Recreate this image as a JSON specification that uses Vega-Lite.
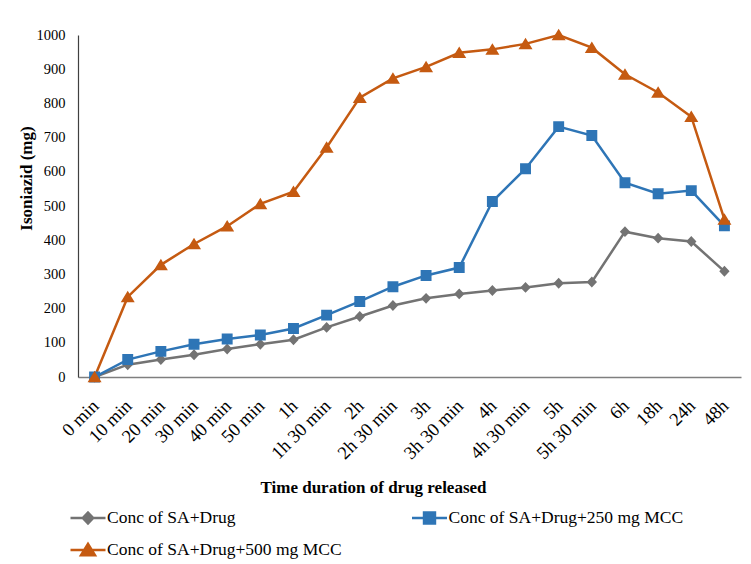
{
  "$schema": "https://vega.github.io/schema/vega-lite/v6.json",
  "width": 663,
  "height": 342,
  "autosize": "none",
  "padding": {"left": 78, "top": 35, "right": 10, "bottom": 187},
  "background": "white",
  "config": {"view": {"stroke": null}, "font": "Liberation Serif"},
  "data": {
    "values": [
      {"time": "0 min", "series": "Conc of SA+Drug", "value": 0},
      {"time": "10 min", "series": "Conc of SA+Drug", "value": 36},
      {"time": "20 min", "series": "Conc of SA+Drug", "value": 51},
      {"time": "30 min", "series": "Conc of SA+Drug", "value": 65},
      {"time": "40 min", "series": "Conc of SA+Drug", "value": 82},
      {"time": "50 min", "series": "Conc of SA+Drug", "value": 96},
      {"time": "1h", "series": "Conc of SA+Drug", "value": 109},
      {"time": "1h 30 min", "series": "Conc of SA+Drug", "value": 145},
      {"time": "2h", "series": "Conc of SA+Drug", "value": 177},
      {"time": "2h 30 min", "series": "Conc of SA+Drug", "value": 209},
      {"time": "3h", "series": "Conc of SA+Drug", "value": 230},
      {"time": "3h 30 min", "series": "Conc of SA+Drug", "value": 243},
      {"time": "4h", "series": "Conc of SA+Drug", "value": 253},
      {"time": "4h 30 min", "series": "Conc of SA+Drug", "value": 262},
      {"time": "5h", "series": "Conc of SA+Drug", "value": 274},
      {"time": "5h 30 min", "series": "Conc of SA+Drug", "value": 278},
      {"time": "6h", "series": "Conc of SA+Drug", "value": 425},
      {"time": "18h", "series": "Conc of SA+Drug", "value": 406},
      {"time": "24h", "series": "Conc of SA+Drug", "value": 396},
      {"time": "48h", "series": "Conc of SA+Drug", "value": 309},
      {"time": "0 min", "series": "Conc of SA+Drug+250 mg MCC", "value": 0},
      {"time": "10 min", "series": "Conc of SA+Drug+250 mg MCC", "value": 51},
      {"time": "20 min", "series": "Conc of SA+Drug+250 mg MCC", "value": 75},
      {"time": "30 min", "series": "Conc of SA+Drug+250 mg MCC", "value": 96},
      {"time": "40 min", "series": "Conc of SA+Drug+250 mg MCC", "value": 111},
      {"time": "50 min", "series": "Conc of SA+Drug+250 mg MCC", "value": 123},
      {"time": "1h", "series": "Conc of SA+Drug+250 mg MCC", "value": 142},
      {"time": "1h 30 min", "series": "Conc of SA+Drug+250 mg MCC", "value": 181},
      {"time": "2h", "series": "Conc of SA+Drug+250 mg MCC", "value": 221},
      {"time": "2h 30 min", "series": "Conc of SA+Drug+250 mg MCC", "value": 264},
      {"time": "3h", "series": "Conc of SA+Drug+250 mg MCC", "value": 297},
      {"time": "3h 30 min", "series": "Conc of SA+Drug+250 mg MCC", "value": 320},
      {"time": "4h", "series": "Conc of SA+Drug+250 mg MCC", "value": 513},
      {"time": "4h 30 min", "series": "Conc of SA+Drug+250 mg MCC", "value": 609},
      {"time": "5h", "series": "Conc of SA+Drug+250 mg MCC", "value": 732},
      {"time": "5h 30 min", "series": "Conc of SA+Drug+250 mg MCC", "value": 706},
      {"time": "6h", "series": "Conc of SA+Drug+250 mg MCC", "value": 568},
      {"time": "18h", "series": "Conc of SA+Drug+250 mg MCC", "value": 536},
      {"time": "24h", "series": "Conc of SA+Drug+250 mg MCC", "value": 545},
      {"time": "48h", "series": "Conc of SA+Drug+250 mg MCC", "value": 442},
      {"time": "0 min", "series": "Conc of SA+Drug+500 mg MCC", "value": 0},
      {"time": "10 min", "series": "Conc of SA+Drug+500 mg MCC", "value": 234},
      {"time": "20 min", "series": "Conc of SA+Drug+500 mg MCC", "value": 328},
      {"time": "30 min", "series": "Conc of SA+Drug+500 mg MCC", "value": 389},
      {"time": "40 min", "series": "Conc of SA+Drug+500 mg MCC", "value": 441},
      {"time": "50 min", "series": "Conc of SA+Drug+500 mg MCC", "value": 506},
      {"time": "1h", "series": "Conc of SA+Drug+500 mg MCC", "value": 542},
      {"time": "1h 30 min", "series": "Conc of SA+Drug+500 mg MCC", "value": 671},
      {"time": "2h", "series": "Conc of SA+Drug+500 mg MCC", "value": 817},
      {"time": "2h 30 min", "series": "Conc of SA+Drug+500 mg MCC", "value": 873},
      {"time": "3h", "series": "Conc of SA+Drug+500 mg MCC", "value": 907},
      {"time": "3h 30 min", "series": "Conc of SA+Drug+500 mg MCC", "value": 948},
      {"time": "4h", "series": "Conc of SA+Drug+500 mg MCC", "value": 958},
      {"time": "4h 30 min", "series": "Conc of SA+Drug+500 mg MCC", "value": 974},
      {"time": "5h", "series": "Conc of SA+Drug+500 mg MCC", "value": 1000},
      {"time": "5h 30 min", "series": "Conc of SA+Drug+500 mg MCC", "value": 963},
      {"time": "6h", "series": "Conc of SA+Drug+500 mg MCC", "value": 885},
      {"time": "18h", "series": "Conc of SA+Drug+500 mg MCC", "value": 832},
      {"time": "24h", "series": "Conc of SA+Drug+500 mg MCC", "value": 761},
      {"time": "48h", "series": "Conc of SA+Drug+500 mg MCC", "value": 461}
    ]
  },
  "encoding": {
    "x": {
      "field": "time",
      "type": "ordinal",
      "sort": ["0 min", "10 min", "20 min", "30 min", "40 min", "50 min", "1h", "1h 30 min", "2h", "2h 30 min", "3h", "3h 30 min", "4h", "4h 30 min", "5h", "5h 30 min", "6h", "18h", "24h", "48h"],
      "scale": {"type": "point", "padding": 0.5},
      "axis": {
        "title": "Time duration of drug released",
        "titleFont": "Liberation Serif",
        "titleFontSize": 17,
        "titleFontWeight": "bold",
        "titleColor": "black",
        "titleX": 295,
        "titleY": 110,
        "titleAlign": "center",
        "titleBaseline": "middle",
        "labelAngle": -45,
        "labelFont": "Liberation Serif",
        "labelFontSize": 18.5,
        "labelColor": "black",
        "labelPadding": 19,
        "labelOffset": -6,
        "labelOverlap": false,
        "ticks": false,
        "tickSize": 0,
        "grid": false,
        "domainColor": "#7f7f7f",
        "domainWidth": 1.5
      }
    },
    "y": {
      "field": "value",
      "type": "quantitative",
      "scale": {"domain": [0, 1000], "nice": false},
      "axis": {
        "title": "Isoniazid (mg)",
        "titleFont": "Liberation Serif",
        "titleFontSize": 17,
        "titleFontWeight": "bold",
        "titleColor": "black",
        "titleX": -52,
        "titleY": 143,
        "titleAngle": -90,
        "titleAlign": "center",
        "titleBaseline": "middle",
        "values": [0, 100, 200, 300, 400, 500, 600, 700, 800, 900, 1000],
        "format": "d",
        "labelFont": "Liberation Serif",
        "labelFontSize": 14.5,
        "labelColor": "black",
        "labelPadding": 13,
        "ticks": false,
        "tickSize": 0,
        "grid": false,
        "domainColor": "#404040",
        "domainWidth": 1.2
      }
    }
  },
  "layer": [
    {
      "mark": {"type": "line", "strokeWidth": 2.5},
      "encoding": {
        "color": {
          "field": "series",
          "type": "nominal",
          "scale": {
            "domain": ["Conc of SA+Drug", "Conc of SA+Drug+250 mg MCC", "Conc of SA+Drug+500 mg MCC"],
            "range": ["#737373", "#2E75B6", "#C55A11"]
          },
          "legend": {
            "title": null,
            "orient": "none",
            "legendX": -5.5,
            "legendY": 467.5,
            "direction": "horizontal",
            "columns": 2,
            "columnPadding": 64.5,
            "rowPadding": 6,
            "padding": 0,
            "symbolType": "M-1.25,0H1.25",
            "symbolSize": 784,
            "symbolStrokeWidth": 2.5,
            "labelFont": "Liberation Serif",
            "labelFontSize": 17.5,
            "labelColor": "black",
            "labelOffset": 3.5,
            "labelLimit": 0
          }
        }
      }
    },
    {
      "mark": {"type": "point", "filled": true, "opacity": 1, "size": 784},
      "encoding": {
        "fill": {
          "field": "series",
          "type": "nominal",
          "scale": {
            "domain": ["Conc of SA+Drug", "Conc of SA+Drug+250 mg MCC", "Conc of SA+Drug+500 mg MCC"],
            "range": ["#737373", "#2E75B6", "#C55A11"]
          },
          "legend": {
            "title": null,
            "orient": "none",
            "legendX": -5.5,
            "legendY": 467.5,
            "direction": "horizontal",
            "columns": 2,
            "columnPadding": 64.5,
            "rowPadding": 6,
            "padding": 0,
            "symbolSize": 784,
            "symbolStrokeWidth": 2.5,
            "labelFont": "Liberation Serif",
            "labelFontSize": 17.5,
            "labelColor": "black",
            "labelOffset": 3.5,
            "labelLimit": 0
          }
        },
        "shape": {
          "field": "series",
          "type": "nominal",
          "scale": {
            "domain": ["Conc of SA+Drug", "Conc of SA+Drug+250 mg MCC", "Conc of SA+Drug+500 mg MCC"],
            "range": [
              "M-1.25,0H1.25M0,-0.39L0.37,0L0,0.39L-0.37,0Z",
              "M-1.25,0H1.25M-0.39,-0.39H0.39V0.39H-0.39Z",
              "M-1.25,0H1.25M0,-0.44L0.5,0.38H-0.5Z"
            ]
          },
          "legend": {
            "title": null,
            "orient": "none",
            "legendX": -5.5,
            "legendY": 467.5,
            "direction": "horizontal",
            "columns": 2,
            "columnPadding": 64.5,
            "rowPadding": 6,
            "padding": 0,
            "symbolSize": 784,
            "symbolStrokeWidth": 2.5,
            "labelFont": "Liberation Serif",
            "labelFontSize": 17.5,
            "labelColor": "black",
            "labelOffset": 3.5,
            "labelLimit": 0
          }
        }
      }
    }
  ]
}
